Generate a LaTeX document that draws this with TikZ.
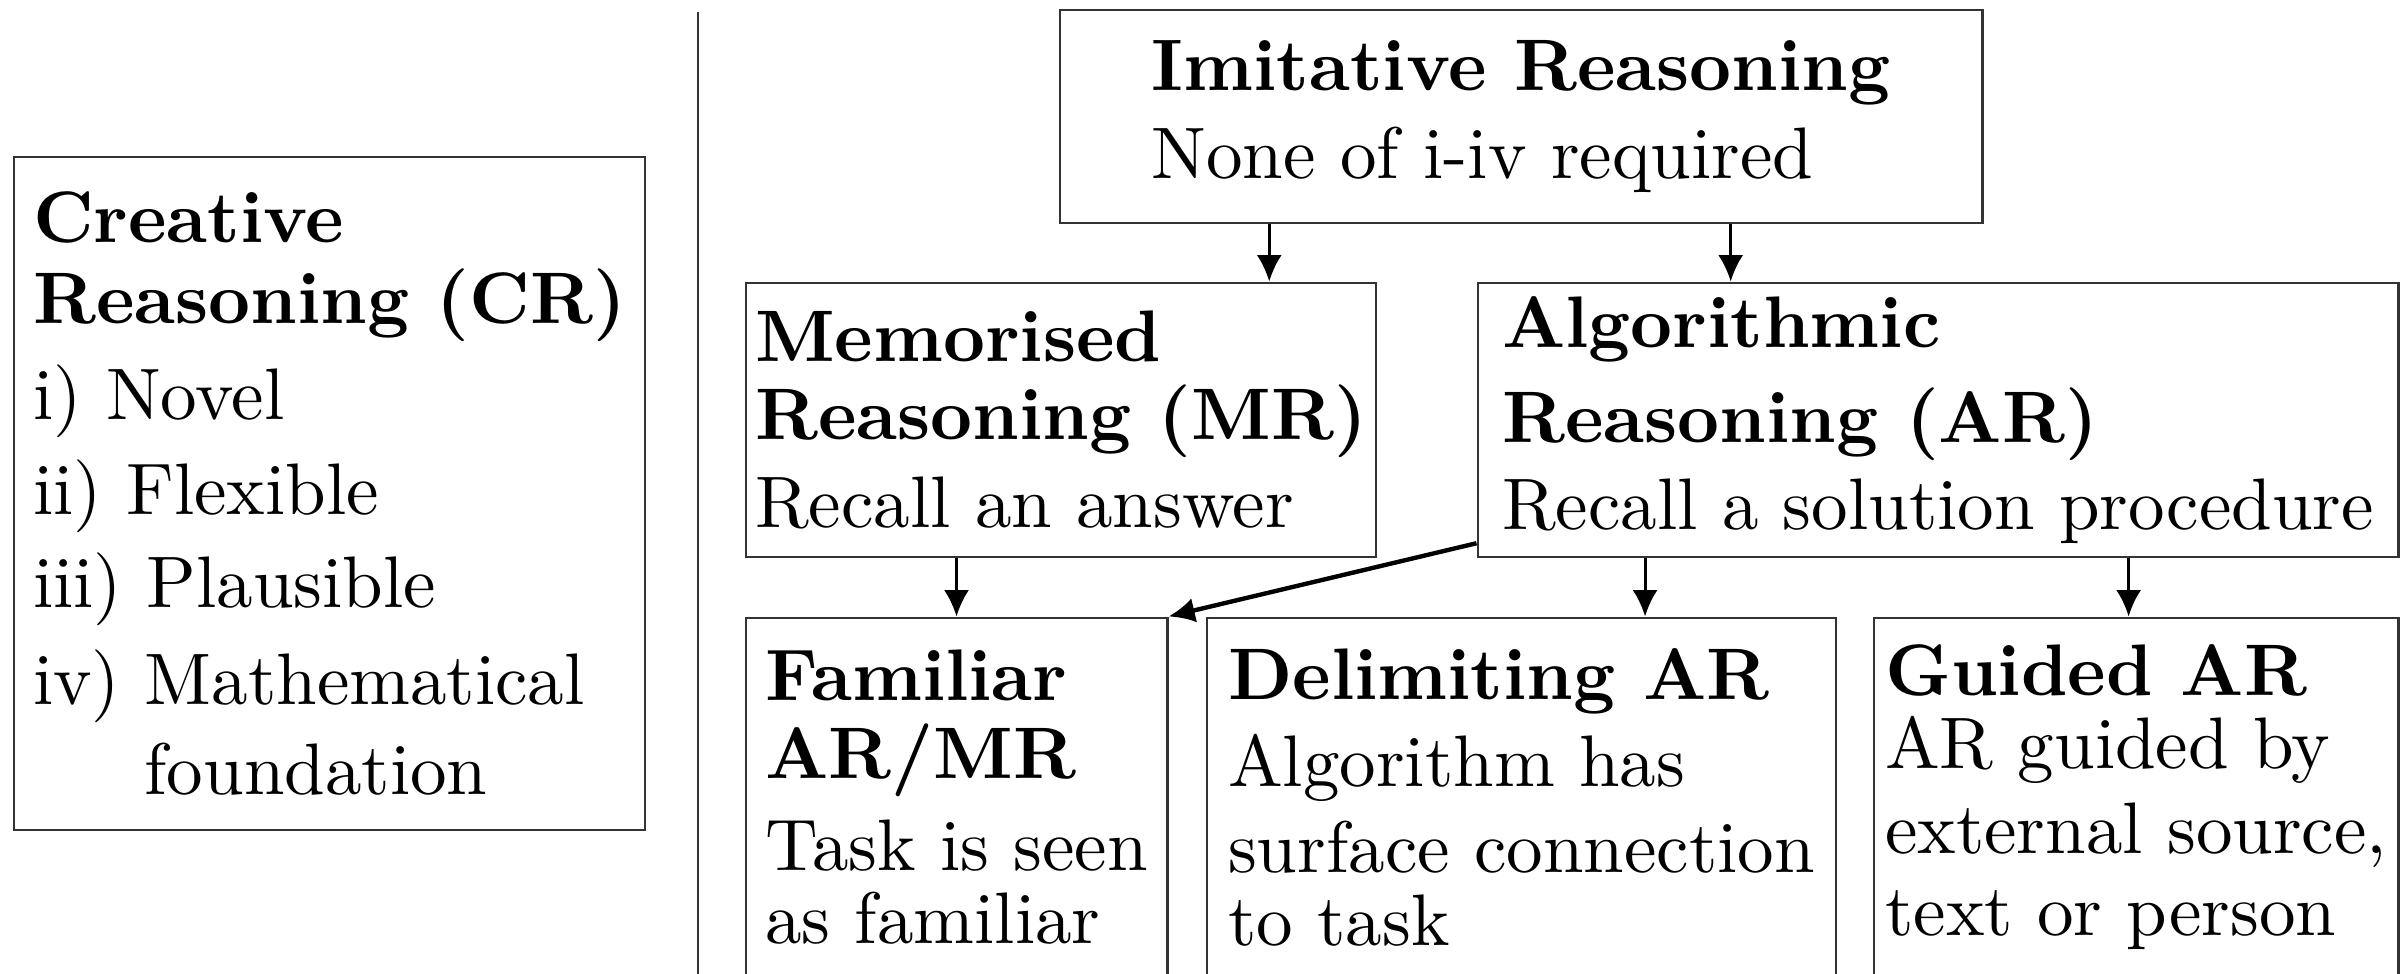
\documentclass[tikz,border=0pt]{standalone}
\usetikzlibrary{arrows.meta,calc}
\begin{document}
\begin{tikzpicture}[x=0.137pt,y=-0.137pt,
  box/.style={draw=black!80, line width=0.4pt, align=left, inner sep=0pt,
    font=\fontsize{10pt}{12pt}\selectfont},
  arr/.style={-{Latex[length=3.6pt,width=3.4pt]}, line width=0.4pt, black},
  sepline/.style={draw=black!80, line width=0.4pt}]
\useasboundingbox (0,0) rectangle (2407,974);
\clip (0,0) rectangle (2407,974);

% left box
\node[box, minimum width=86.45pt, minimum height=92.20pt] (cr) at (329.5,493.5)
  {\textbf{Creative}\\[-0.9pt]\textbf{Reasoning (CR)}\\[1.15pt]i) Novel\\[1pt]ii) Flexible\\[0.7pt]iii) Plausible\\[1.4pt]iv) Mathematical\\[0.3pt]\hphantom{iv)}\ foundation};

% separator
\draw[sepline] (698,12) -- (698,980);

% top
\node[box, minimum width=126.31pt, minimum height=29.18pt] (imit) at (1521,116.5)
  {\textbf{Imitative Reasoning}\\None of i-iv required};

% middle row
\node[box, minimum width=86.31pt, minimum height=37.54pt] (mem) at (1061,420)
  {\textbf{Memorised}\\[-1.3pt]\textbf{Reasoning (MR)}\\Recall an answer};
\node[box, minimum width=126.04pt, minimum height=37.54pt] (alg) at (1938,420)
  {\textbf{Algorithmic}\\[1pt]\textbf{Reasoning (AR)}\\[-0.1pt]Recall a solution procedure};

% bottom row
\node[box, minimum width=57.68pt, minimum height=49.05pt] (fam) at (956.5,797)
  {\textbf{Familiar}\\[-1.3pt]\textbf{AR/MR}\\[0.5pt]Task is seen\\[-2pt]as familiar};
\node[box, minimum width=86.17pt, minimum height=49.05pt] (del) at (1521.5,797)
  {\textbf{Delimiting AR}\\Algorithm has\\[-0.2pt]surface connection\\[-2.1pt]to task};
\node[box, minimum width=71.79pt, minimum height=49.05pt] (gui) at (2136,797)
  {\textbf{Guided AR}\\[-2pt]AR guided by\\[-0.4pt]external source,\\[-0.8pt]text or person};

% connectors
\coordinate (a1) at ($(imit.south west)!0.2278!(imit.south east)$);
\coordinate (a2) at ($(imit.south west)!0.7267!(imit.south east)$);
\draw[arr] (a1) -- (a1 |- mem.north);
\draw[arr] (a2) -- (a2 |- alg.north);
\draw[arr] (mem.south -| fam.north) -- (fam.north);
\coordinate (a4) at ($(alg.south west)!0.1826!(alg.south east)$);
\coordinate (a5) at ($(alg.south west)!0.7065!(alg.south east)$);
\draw[arr] (a4) -- (a4 |- del.north);
\draw[arr] (a5) -- (a5 |- gui.north);
\coordinate (d0) at ($(alg.north west)!0.945!(alg.south west)$);
\draw[arr, line width=0.6pt] (d0) -- (fam.north east);
\end{tikzpicture}
\end{document}
